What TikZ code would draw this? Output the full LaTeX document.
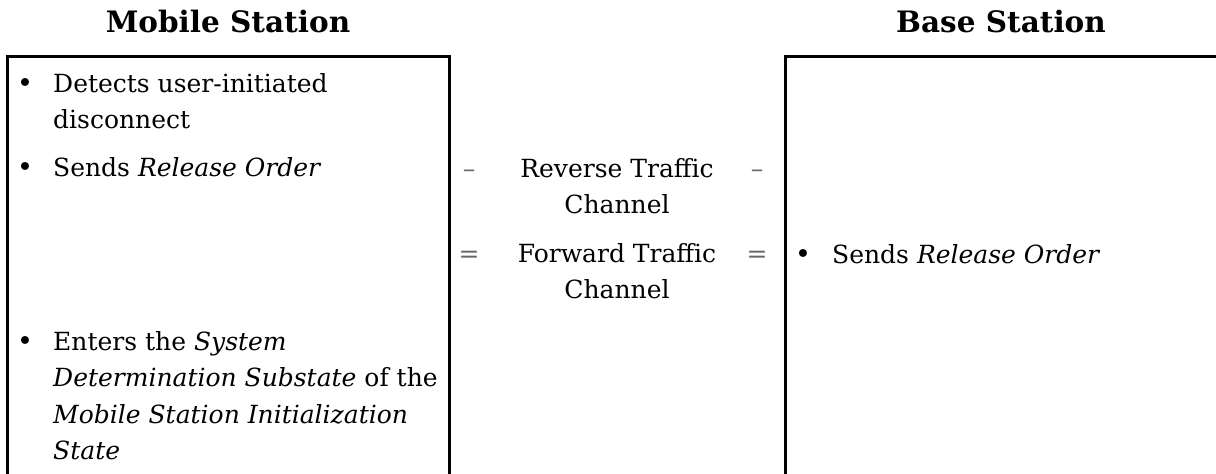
\documentclass[tikz,border=0pt]{standalone}
\usepackage{fontspec}
\setmainfont{DejaVu Serif}
\begin{document}
\begin{tikzpicture}[x=1pt,y=-1pt,
  boxline/.style={line width=3pt,line cap=rect},
  title/.style={font=\fontsize{29.5}{32}\selectfont\bfseries,inner sep=0pt,anchor=base},
  item/.style={font=\fontsize{25}{36.6}\selectfont,inner sep=0pt,anchor=base west,align=left},
  midtext/.style={font=\fontsize{25}{36.6}\selectfont,inner sep=0pt,anchor=base,align=center},
  bul/.style={font=\fontsize{27}{30}\selectfont,inner sep=0pt,anchor=base},
  sym/.style={font=\fontsize{25}{30}\selectfont,inner sep=0pt,anchor=base,text=black!60}]
\useasboundingbox (0,0) rectangle (1216,474);
% titles
\node[title] (ms) at (228,32) {Mobile Station};
\node[title] (bs) at (1001,32) {Base Station};
% boxes
\coordinate (lbl) at (7,480);
\coordinate (ltl) at (7,56);
\coordinate (ltr) at (449,56);
\coordinate (lbr) at (449,480);
\draw[boxline] (lbl) -- (ltl) -- (ltr) -- (lbr);
\coordinate (rbl) at (785,480);
\coordinate (rtl) at (785,56);
\coordinate (rtr) at (1222,56);
\draw[boxline] (rbl) -- (rtl) -- (rtr);
% mobile station items (base anchor = baseline of last line)
\node[item] (m1) at (53,128.6) {Detects user-initiated\\disconnect};
\node[bul] (b1) at (25,92) {•};
\node[item] (m2) at (53,176) {Sends \textit{Release Order}};
\node[bul] (b2) at (25,176) {•};
\node[item] (m3) at (53,459.8) {Enters the \textit{System}\\\textit{Determination Substate} of the\\\textit{Mobile Station Initialization}\\\textit{State}};
\node[bul] (b3) at (25,350) {•};
% channels
\node[midtext] (rev) at (617,213.6) {Reverse Traffic\\Channel};
\node[sym] (revl) at (469,177) {–};
\node[sym] (revr) at (757,177) {–};
\node[midtext] (fwd) at (617,298.6) {Forward Traffic\\Channel};
\node[sym] (fwdl) at (469,262) {=};
\node[sym] (fwdr) at (757,262) {=};
% base station item
\node[item] (b1t) at (832,263) {Sends \textit{Release Order}};
\node[bul] (b4) at (803,263) {•};
\end{tikzpicture}
\end{document}
